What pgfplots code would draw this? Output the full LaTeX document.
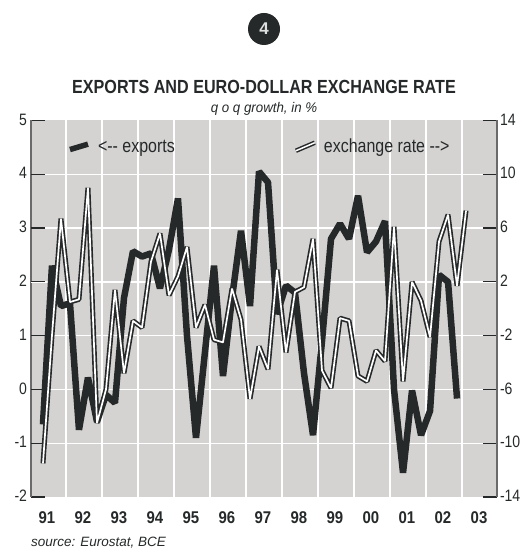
\documentclass[border=0pt]{standalone}
\usepackage{fontspec}
\usepackage{pgfplots}
\pgfplotsset{compat=1.18}
\setmainfont{Liberation Sans}
\definecolor{ink}{HTML}{26292A}
\definecolor{bg}{HTML}{D4D3D2}
\definecolor{axl}{HTML}{6A6A6A}
\pgfplotstableread{
k e
0 -0.65
1 2.30
2 1.55
3 1.60
4 -0.75
5 0.22
6 -0.60
7 -0.10
8 -0.25
9 1.70
10 2.57
11 2.47
12 2.53
13 1.88
14 2.60
15 3.55
16 1.00
17 -0.90
18 0.70
19 2.30
20 0.25
21 1.70
22 2.95
23 1.55
24 4.05
25 3.85
26 1.40
27 1.93
28 1.80
29 0.30
30 -0.85
31 0.90
32 2.80
33 3.08
34 2.80
35 3.60
36 2.55
37 2.75
38 3.13
39 0.00
40 -1.55
41 -0.02
42 -0.85
43 -0.40
44 2.13
45 2.00
46 -0.17
}\exports
\pgfplotstableread{
k r
0 -11.5
1 -2.0
2 6.7
3 0.5
4 0.7
5 9.0
6 -8.5
7 -6.0
8 1.4
9 -4.8
10 -0.9
11 -1.4
12 3.5
13 5.6
14 1.0
15 2.4
16 4.6
17 -1.4
18 0.3
19 -2.3
20 -2.5
21 1.5
22 -0.8
23 -6.7
24 -2.8
25 -4.5
26 2.9
27 -3.25
28 1.25
29 1.6
30 5.2
31 -4.6
32 -5.9
33 -0.7
34 -0.9
35 -5.0
36 -5.4
37 -3.1
38 -3.9
39 6.1
40 -5.4
41 2.0
42 0.6
43 -2.1
44 5.0
45 7.0
46 1.7
47 7.3
}\exchange
\begin{document}
\begin{tikzpicture}[x=1pt,y=1pt]
\useasboundingbox (0,0) rectangle (521,548);
\fill[ink] (264,519) circle (16);
\node[text=white!85!ink,font=\fontsize{17}{17}\selectfont\bfseries] at (264,519) {4};
\node[text=ink,font=\fontsize{19}{20}\selectfont\bfseries,xscale=0.85] at (264,461) {EXPORTS AND EURO-DOLLAR EXCHANGE RATE};
\node[text=ink,font=\fontsize{14}{15}\selectfont\itshape,xscale=0.95] at (264,439.5) {q o q growth, in \%};
\node[text=ink,font=\fontsize{13.5}{14}\selectfont\itshape,anchor=west,inner sep=0pt] at (31,5.5) {source: Eurostat, BCE};
\begin{axis}[
  at={(31pt,51pt)},anchor=south west,
  scale only axis,width=466pt,height=376.5pt,
  xmin=-1.33,xmax=50.44,ymin=-2,ymax=5,
  axis background/.style={fill=bg},
  axis y line*=left,axis x line*=bottom,
  x axis line style={draw=none},
  y axis line style={draw=axl,line width=1.2pt},
  xtick={0.44,4.44,8.44,12.44,16.44,20.44,24.44,28.44,32.44,36.44,40.44,44.44,48.44},
  xticklabels={91,92,93,94,95,96,97,98,99,00,01,02,03},
  x tick label style={font=\fontsize{17}{17}\selectfont\bfseries,text=ink,yshift=-11pt,xscale=0.88},
  major x tick style={draw=none},
  minor xtick={2.56,6.56,10.56,14.56,18.56,22.56,26.56,30.56,34.56,38.56,42.56,46.56},
  xminorgrids,
  minor x tick style={draw=none},
  minor x grid style={white,line width=1.3pt},
  ytick={-2,-1,0,1,2,3,4,5},
  yticklabels={-2,-1,0,1,2,3,4,5},
  y tick label style={font=\fontsize{16.5}{16.5}\selectfont,text=ink,xshift=-1pt,yshift=1pt,xscale=0.85},
  tick align=inside,
  major tick length=14pt,
  major y tick style={draw=ink,line width=1.2pt},
  extra y ticks={-1,0,1,2,3,4},
  extra y tick labels={},
  extra y tick style={grid=major,major grid style={white,line width=1.3pt}},
  clip=false,
]
\addplot[ink,line width=6.5pt,line join=bevel] table[x=k,y=e] {\exports};
\addplot[ink,line width=5.5pt] coordinates {(3,4.46) (5,4.56)};
\node[text=ink,font=\fontsize{19}{19}\selectfont,anchor=west,inner sep=0pt,xscale=0.84] at (axis cs:6.1,4.49) {<{-}{-} exports};
\node[text=ink,font=\fontsize{19}{19}\selectfont,anchor=west,inner sep=0pt,xscale=0.84] at (axis cs:31.2,4.49) {exchange rate {-}{-}>};
\end{axis}
\begin{axis}[
  at={(31pt,51pt)},anchor=south west,
  scale only axis,width=466pt,height=376.5pt,
  xmin=-1.33,xmax=50.44,ymin=-14,ymax=14,
  axis y line*=right,axis x line=none,
  y axis line style={draw=axl,line width=1.2pt},
  ytick={-14,-10,-6,-2,2,6,10,14},
  yticklabels={-14,-10,-6,-2,2,6,10,14},
  y tick label style={font=\fontsize{16.5}{16.5}\selectfont,text=ink,xshift=0pt,yshift=1pt,xscale=0.85},
  tick align=inside,
  major tick length=14pt,
  major y tick style={draw=ink,line width=1.2pt},
  clip=false,
]
\addplot[ink,line width=5pt,line join=bevel] table[x=k,y=r] {\exchange};
\addplot[white,line width=1.7pt,line join=bevel] table[x=k,y=r] {\exchange};
\addplot[ink,line width=4.5pt] coordinates {(28.1,11.75) (30.2,12.35)};
\addplot[white,line width=1.5pt] coordinates {(28.1,11.75) (30.2,12.35)};
\end{axis}
\end{tikzpicture}
\end{document}
